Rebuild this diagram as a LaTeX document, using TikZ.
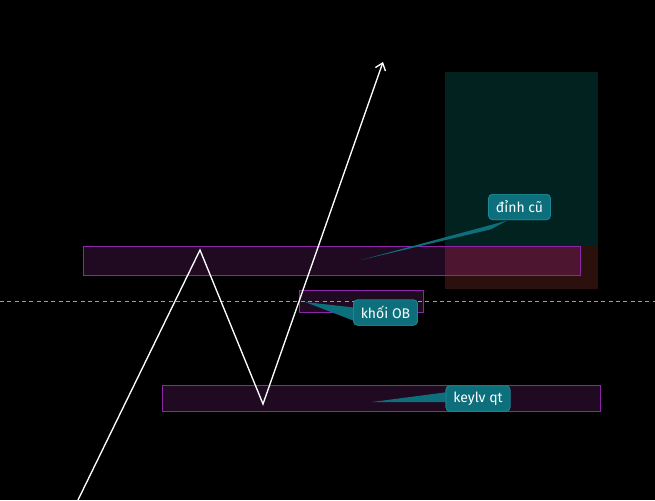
\documentclass[tikz,border=0pt]{standalone}
\usepackage{fontspec}
\setmainfont{Fira Sans}
\usetikzlibrary{arrows.meta}
\definecolor{tealzone}{HTML}{01221F}
\definecolor{redzone}{HTML}{2C100D}
\definecolor{overlap}{HTML}{4E1530}
\definecolor{obfill}{HTML}{200A22}
\definecolor{obline}{HTML}{8E24AA}
\definecolor{callfill}{HTML}{0E6F7C}
\definecolor{callline}{HTML}{1A8A96}
\begin{document}
\begin{tikzpicture}[x=0.75pt,y=-0.75pt,
  zone/.style={fill=obfill,draw=obline,line width=0.75pt},
  callout/.style={fill=callfill,draw=callline,line width=0.5pt,rounded corners=3pt,
    text=white,font=\fontsize{10.5}{12}\selectfont,inner xsep=5.5pt,inner ysep=4pt,
    minimum height=19pt},
  pointer/.style={fill=callfill,draw=none}]
\fill[black] (0,0) rectangle (655,500);
\useasboundingbox (0,0) rectangle (655,500);
% zones
\fill[tealzone] (445,72) rectangle (598,245);
\fill[redzone] (445,245) rectangle (598,289);
\draw[zone] (83.5,246.5) rectangle (580,275);
\fill[overlap] (445,247) rectangle (579.5,274.5);
\draw[obline,line width=0.75pt] (445,246.5) -- (580,246.5) -- (580,275) -- (445,275);
\draw[zone] (299.5,290.5) rectangle (423.5,312);
\draw[zone] (162.5,385.5) rectangle (600.5,411);
% dashed level
\draw[gray!75,line width=0.6pt,dash pattern=on 3pt off 2.5pt] (0,301) -- (655,301);
% price path
\coordinate (p0) at (78,500);
\coordinate (p1) at (200,250);
\coordinate (p2) at (263,404);
\coordinate (p3) at (383,62);
\draw[white,line width=1pt,-{Straight Barb[length=5pt,width=8pt]}] (p0) -- (p1) -- (p2) -- (p3);
% callouts
\node[callout] (dinh) at (519.5,207) {đỉnh cũ};
\node[callout] (ob) at (385.5,312.5) {khối OB};
\node[callout] (key) at (478,398.5) {keylv qt};
\coordinate (tdinh) at (361,260);
\coordinate (tob) at (305,302);
\coordinate (tkey) at (372,402);
\fill[pointer] (tdinh) -- ([xshift=2pt,yshift=-7pt]dinh.south west) -- ([xshift=14pt,yshift=-0.5pt]dinh.south west) -- cycle;
\fill[pointer] (tob) -- ([xshift=0.5pt,yshift=-6pt]ob.north west) -- ([xshift=2pt,yshift=3pt]ob.south west) -- cycle;
\fill[pointer] (tkey) -- ([xshift=1pt,yshift=-5pt]key.north west) -- ([xshift=1pt,yshift=7pt]key.south west) -- cycle;
\node[callout] at (dinh) {đỉnh cũ};
\node[callout] at (ob) {khối OB};
\node[callout] at (key) {keylv qt};
\end{tikzpicture}
\end{document}
